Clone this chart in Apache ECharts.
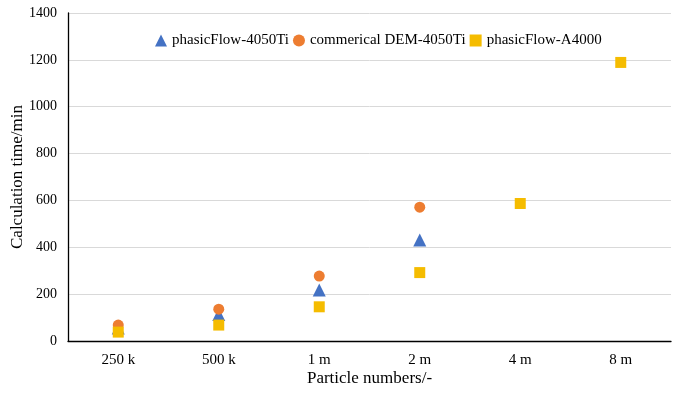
<!DOCTYPE html>
<html><head><meta charset="utf-8">
<script src="https://cdn.jsdelivr.net/npm/echarts@6/dist/echarts.min.js"></script>
<style>html,body{margin:0;padding:0;background:#fff}#c{width:690px;height:393px}</style>
</head><body><div id="c"></div>
<script>
const categories = ['250 k', '500 k', '1 m', '2 m', '4 m', '8 m'];
const phasicFlow4050Ti = [55, 113, 218, 431, null, null];
const commercialDEM4050Ti = [68, 136, 277, 571, null, null];
const phasicFlowA4000 = [38, 68, 146, 292, 587, 1189];
const yTicks = { min: 0, max: 1400, interval: 200 };

const font = 'Liberation Serif';
const chart = echarts.init(document.getElementById('c'));
chart.setOption({
  animation: false,
  grid: { left: 68, right: 19, top: 13, bottom: 52, containLabel: false, outerBoundsMode: 'none' },
  legend: {
    top: 28, left: 150,
    itemWidth: 12, itemHeight: 12, itemGap: 4,
    textStyle: { fontFamily: font, fontSize: 15, color: '#000' },
    data: [
      { name: 'phasicFlow-4050Ti', icon: 'triangle' },
      { name: 'commerical DEM-4050Ti', icon: 'circle' },
      { name: 'phasicFlow-A4000', icon: 'rect' }
    ]
  },
  xAxis: {
    type: 'category', data: categories,
    name: 'Particle numbers/-', nameLocation: 'middle', nameGap: 29, nameMoveOverlap: false,
    nameTextStyle: { fontFamily: font, fontSize: 17, color: '#000' },
    axisLine: { lineStyle: { color: '#000', width: 1.3 } },
    axisTick: { alignWithLabel: true, length: 4, lineStyle: { color: '#000' } },
    axisLabel: { fontFamily: font, fontSize: 15, color: '#000', margin: 12 }
  },
  yAxis: {
    type: 'value', min: yTicks.min, max: yTicks.max, interval: yTicks.interval,
    name: 'Calculation time/min', nameLocation: 'middle', nameGap: 42, nameMoveOverlap: false,
    nameTextStyle: { fontFamily: font, fontSize: 17, color: '#000' },
    axisLine: { show: true, lineStyle: { color: '#000', width: 1.3 } },
    axisTick: { show: false },
    axisLabel: { fontFamily: font, fontSize: 14, color: '#000', margin: 11, formatter: v => String(v) },
    splitLine: { lineStyle: { color: '#d9d9d9' } }
  },
  series: [
    { name: 'phasicFlow-4050Ti', type: 'scatter', symbol: 'triangle', symbolSize: 13,
      itemStyle: { color: '#4472C4', opacity: 1 }, data: phasicFlow4050Ti },
    { name: 'commerical DEM-4050Ti', type: 'scatter', symbol: 'circle', symbolSize: 11,
      itemStyle: { color: '#ED7D31', opacity: 1 }, data: commercialDEM4050Ti },
    { name: 'phasicFlow-A4000', type: 'scatter', symbol: 'rect', symbolSize: 11,
      itemStyle: { color: '#F5BC00', opacity: 1 }, data: phasicFlowA4000 }
  ]
});
</script></body></html>
